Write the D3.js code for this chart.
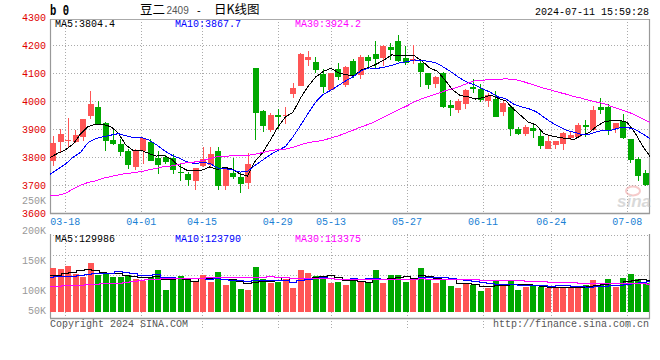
<!DOCTYPE html>
<html><head><meta charset="utf-8">
<script src="https://cdn.jsdelivr.net/npm/d3@7"></script>
<style>
html,body{margin:0;padding:0;background:#fff;}
svg{display:block;}
text{font-family:"Liberation Mono",monospace;font-size:10px;}
</style></head><body>
<svg id="chart" width="660" height="360"></svg>
<script>
// ---------- data ----------
const dates = ["03-14","03-15","03-18","03-19","03-20","03-21","03-22","03-25","03-26","03-27",
"03-28","03-29","04-01","04-02","04-03","04-08","04-09","04-10","04-11","04-12",
"04-15","04-16","04-17","04-18","04-19","04-22","04-23","04-24","04-25","04-26",
"04-29","04-30","05-06","05-07","05-08","05-09","05-10","05-13","05-14","05-15",
"05-16","05-17","05-20","05-21","05-22","05-23","05-24","05-27","05-28","05-29",
"05-30","05-31","06-03","06-04","06-05","06-06","06-07","06-11","06-12","06-13",
"06-14","06-17","06-18","06-19","06-20","06-21","06-24","06-25","06-26","06-27",
"06-28","07-01","07-02","07-03","07-04","07-05","07-08","07-09","07-10","07-11"];

const opens = [3786,3854,3858,3854,3872,3947,3977,3923,3860,3848,
3820,3764,3822,3853,3795,3799,3795,3747,3738,3714,
3768,3772,3820,3697,3742,3728,3706,4119,3963,3897,
3949,3949,4024,4054,4146,4138,4098,4038,4113,4057,
4142,4092,4156,4167,4154,4192,4213,4152,4142,4137,
4100,4062,4100,3985,3968,3989,4050,4042,3999,4007,
3961,3977,3899,3881,3905,3876,3828,3843,3845,3867,
3870,3916,3895,3980,3980,3899,3929,3863,3792,3744];

const closes = [3851,3881,3861,3880,3935,3988,3918,3857,3845,3818,
3772,3820,3867,3786,3772,3782,3753,3742,3718,3760,
3792,3810,3697,3756,3729,3705,3774,3958,3911,3949,
3944,3951,4045,4168,4156,4111,4050,4100,4086,4121,
4092,4156,4142,4149,4196,4181,4142,4137,4149,4104,
4057,4086,3979,3975,4000,4038,4043,4002,4023,3943,
3992,3900,3881,3906,3894,3839,3856,3856,3885,3878,
3913,3907,3967,3968,3893,3920,3869,3789,3732,3700];

const highs = [3875,3899,3938,3895,3935,4035,3999,3926,3899,3863,
3828,3828,3869,3863,3820,3806,3810,3774,3747,3760,
3837,3837,3837,3760,3798,3742,3816,4119,3968,3958,
3970,3980,4063,4170,4177,4156,4113,4100,4135,4124,
4149,4163,4163,4213,4199,4206,4235,4196,4199,4142,
4100,4089,4104,4002,4007,4042,4077,4060,4027,4035,
4000,3982,3908,3913,3917,3893,3878,3856,3891,3893,
3920,3932,3982,4012,3988,3923,3952,3863,3800,3753];

const lows = [3768,3818,3837,3850,3857,3935,3913,3822,3843,3804,
3756,3754,3774,3786,3738,3775,3738,3714,3697,3682,
3766,3762,3682,3682,3723,3670,3685,3861,3889,3889,
3901,3918,4010,4054,4125,4099,4027,4036,4074,4050,
4083,4080,4113,4116,4125,4146,4139,4127,4133,4050,
4042,4045,3974,3945,3957,3970,4027,3998,3979,3943,
3947,3875,3878,3875,3868,3828,3828,3828,3825,3861,
3868,3873,3893,3952,3878,3887,3863,3778,3714,3697];

const volumes = [182500,177000,189600,156000,145000,203000,152000,156000,145000,145000,
152000,135000,127000,145000,173000,90000,131000,148000,135000,124000,
151000,124000,166000,110000,126000,95000,90000,187000,137000,117000,
124000,135000,99000,173000,162000,149000,149000,120000,124000,110000,
135000,127000,117000,173000,120000,152000,152000,124000,138000,181000,
131000,120000,135000,106000,99000,117000,110000,87000,99000,131000,
110000,131000,90000,101000,106000,101000,97000,101000,101000,101000,
101000,110000,131000,110000,135000,101000,140000,156000,135000,117000];

const ma5Early = [3798,3813,3825,3845];
const ma10Early = [3738,3756,3774,3798,3816,3851,3866,3872,3878];
const ma30Early = [3663,3663,3670,3685,3699,3709,3715,3724,3730,3736,3741,3744,3748,3754,3759,
3766,3768,3774,3780,3782,3787,3794,3801,3803,3804,3804,3806,3810,3816];
const vma5Early = [148000,152000,159000,163000];
const vma10Early = [142000,144000,145000,147000,148000,156000,159000,159000,159000];
const vma30Early = [106000,106000,108000,110000,110000,113000,114000,115000,116000,118000,
121000,124000,128000,132000,135000,137000,137000,137000,137000,137000,137000,
140000,140000,140000,140000,140000,140000,140000,140000];

const maNames = ["MA5","MA10","MA30"];
const priceMaLegend = ["3804.4","3867.7","3924.2"];
const volMaLegend = ["129986","123790","113375"];
const priceTicks = [3600,3700,3800,3900,4000,4100,4200,4300];
const volTicks = [250000,200000,150000,100000,50000];
const dateTicks = ["03-18","04-01","04-15","04-29","05-13","05-27","06-11","06-24","07-08"];
const titleMain = "豆二", titleCode = "2409", titleSep = "-", titleKind = "日K线图";
const timestamp = "2024-07-11 15:59:28";
const copyright = "Copyright 2024 SINA.COM";
const siteUrl = "http://finance.sina.com.cn";

// ---------- styles ----------
const UP = "#ff5555", DOWN = "#00a800";
const MA_COLORS = ["#000000","#0000ff","#ff00ff"];
const GRID = "#aaaaaa", AXIS = "#999999";

const svg = d3.select("#chart");
const L = 50, R = 650;
const PT = 19, PB = 213;      // price panel
const VT = 234, VB = 318;     // volume panel

const xBand = d3.scaleBand().domain(dates).range([49.25, 649.25]).paddingInner(0.2).paddingOuter(0.1);
const xPt = d3.scalePoint().domain(dates).range([L, R]);
const y = d3.scaleLinear().domain([3600, 4300]).range([213, 17]);
const yv = d3.scaleLinear().domain([0, 250000]).range([311.5, 251.5]);
const yvLabel = d3.scaleLinear().domain([100000, 250000]).range([290, 200]);
const vGrid = d3.scaleLinear().domain([0, 4]).range([235, 315]);

function movingAvg(arr, n, early) {
  return arr.map((_, i) => i < n - 1 ? early[i] : d3.mean(arr.slice(i - n + 1, i + 1)));
}
const priceMA = [movingAvg(closes, 5, ma5Early), movingAvg(closes, 10, ma10Early), movingAvg(closes, 30, ma30Early)];
const volMA = [movingAvg(volumes, 5, vma5Early), movingAvg(volumes, 10, vma10Early), movingAvg(volumes, 30, vma30Early)];

// ---------- grid ----------
const g = svg.append("g");
// price horizontals
g.selectAll(".hg").data(priceTicks.filter(t => t > 3600 && t < 4300)).join("line")
  .attr("x1", L).attr("x2", R).attr("y1", d => y(d) + 0.5).attr("y2", d => y(d) + 0.5)
  .attr("stroke", GRID).attr("stroke-dasharray", "1,2");
// date verticals
g.selectAll(".vg1").data(dateTicks).join("line")
  .attr("x1", d => Math.round(xPt(d)) + 0.5).attr("x2", d => Math.round(xPt(d)) + 0.5)
  .attr("y1", PT).attr("y2", PB).attr("stroke", GRID).attr("stroke-dasharray", "1,2");
g.selectAll(".vg2").data(dateTicks).join("line")
  .attr("x1", d => Math.round(xPt(d)) + 0.5).attr("x2", d => Math.round(xPt(d)) + 0.5)
  .attr("y1", VT).attr("y2", 328).attr("stroke", GRID).attr("stroke-dasharray", "1,2");
// volume horizontals
g.selectAll(".vh").data([0, 1, 2, 3]).join("line")
  .attr("x1", L).attr("x2", R).attr("y1", d => vGrid(d) + 0.5).attr("y2", d => vGrid(d) + 0.5)
  .attr("stroke", GRID).attr("stroke-dasharray", "1,2");
// frame
g.append("line").attr("x1", L).attr("x2", R).attr("y1", PT + 0.5).attr("y2", PT + 0.5).attr("stroke", GRID);
g.append("line").attr("x1", L + 0.5).attr("x2", L + 0.5).attr("y1", PT).attr("y2", PB + 1).attr("stroke", AXIS).attr("stroke-width", 1.2);
g.append("line").attr("x1", L).attr("x2", R).attr("y1", PB + 0.5).attr("y2", PB + 0.5).attr("stroke", AXIS).attr("stroke-width", 1.5);
g.append("line").attr("x1", R - 0.5).attr("x2", R - 0.5).attr("y1", PT).attr("y2", PB + 1).attr("stroke", AXIS).attr("stroke-width", 1.2);
g.append("line").attr("x1", L + 0.5).attr("x2", L + 0.5).attr("y1", VT).attr("y2", VB).attr("stroke", AXIS).attr("stroke-width", 1.2);
g.append("line").attr("x1", L).attr("x2", R).attr("y1", VB + 0.5).attr("y2", VB + 0.5).attr("stroke", AXIS).attr("stroke-width", 1.5);
g.append("line").attr("x1", R - 0.5).attr("x2", R - 0.5).attr("y1", VT).attr("y2", VB + 1).attr("stroke", AXIS).attr("stroke-width", 1.2);

// watermark
const wm = svg.append("g").attr("opacity", 0.55);
wm.append("ellipse").attr("cx", 633).attr("cy", 191).attr("rx", 7).attr("ry", 4.5)
  .attr("fill", "none").attr("stroke", "#f0a0a0").attr("stroke-width", 2);
wm.append("text").attr("x", 617).attr("y", 207).text("sina")
  .style("font-family", "Liberation Sans").style("font-size", "17px").style("font-style", "italic")
  .style("font-weight", "bold").attr("fill", "#bbbbbb");

// ---------- candles ----------
const idx = d3.range(dates.length);
const cg = svg.append("g").attr("shape-rendering", "crispEdges");
cg.selectAll(".wick").data(idx).join("line")
  .attr("x1", i => xBand(dates[i]) + xBand.bandwidth() / 2)
  .attr("x2", i => xBand(dates[i]) + xBand.bandwidth() / 2)
  .attr("y1", i => y(highs[i])).attr("y2", i => y(lows[i]))
  .attr("stroke", i => closes[i] >= opens[i] ? UP : DOWN);
cg.selectAll(".body").data(idx).join("rect")
  .attr("x", i => xBand(dates[i])).attr("width", xBand.bandwidth())
  .attr("y", i => y(Math.max(opens[i], closes[i])))
  .attr("height", i => Math.max(1, Math.abs(y(opens[i]) - y(closes[i]))))
  .attr("fill", i => closes[i] >= opens[i] ? UP : DOWN);

// price MAs
const maLine = d3.line().x((d, i) => xPt(dates[i])).y(d => y(d));
svg.append("g").selectAll("path").data(priceMA).join("path")
  .attr("d", d => maLine(d)).attr("fill", "none")
  .attr("stroke", (d, k) => MA_COLORS[k]).attr("stroke-width", 1).attr("shape-rendering", "crispEdges");

// ---------- volume ----------
cg.selectAll(".vbar").data(idx).join("rect")
  .attr("x", i => xBand(dates[i])).attr("width", xBand.bandwidth())
  .attr("y", i => yv(volumes[i])).attr("height", i => yv(0) - yv(volumes[i]))
  .attr("fill", i => closes[i] >= opens[i] ? UP : DOWN);
const vLine = d3.line().x((d, i) => xPt(dates[i])).y(d => yv(d)).curve(d3.curveStep);
svg.append("g").selectAll("path").data(volMA).join("path")
  .attr("d", d => vLine(d)).attr("fill", "none")
  .attr("stroke", (d, k) => MA_COLORS[k]).attr("stroke-width", 1).attr("shape-rendering", "crispEdges");

// ---------- text ----------
const t = svg.append("g");
t.selectAll(".pt").data(priceTicks).join("text")
  .attr("x", 46).attr("y", d => y(d) + 3.5).attr("text-anchor", "end")
  .attr("fill", "#e00000").text(d => d);
t.selectAll(".vt").data(volTicks).join("text")
  .attr("x", 46).attr("y", d => Math.min(310, yvLabel(d)) + 3.5).attr("text-anchor", "end")
  .attr("fill", "#999999").text(d => (d / 1000) + "K");
t.selectAll(".dt").data(dateTicks).join("text")
  .attr("x", d => xPt(d)).attr("y", 225).attr("text-anchor", "middle")
  .attr("fill", "#1a7fd4").text(d => d);
t.selectAll(".pl").data(maNames).join("text")
  .attr("x", (d, k) => 55 + k * 120).attr("y", 27).attr("fill", (d, k) => MA_COLORS[k])
  .text((d, k) => d + ":" + priceMaLegend[k]);
t.selectAll(".vl").data(maNames).join("text")
  .attr("x", (d, k) => 55 + k * 120).attr("y", 241.5).attr("fill", (d, k) => MA_COLORS[k])
  .text((d, k) => d + ":" + volMaLegend[k]);

t.append("text").attr("x", 50).attr("y", 15).text("b 0")
  .style("font-size", "14px").style("font-weight", "bold").attr("textLength", 19).attr("lengthAdjust", "spacingAndGlyphs");
const cjk = "'Noto Sans CJK SC', sans-serif";
t.append("text").attr("x", 140).attr("y", 14).text(titleMain).style("font-family", cjk).style("font-size", "12.5px").attr("fill", "#000");
t.append("text").attr("x", 166.5).attr("y", 13.5).text(titleCode).style("font-family", "Liberation Sans").style("font-size", "10px").attr("fill", "#555");
t.append("text").attr("x", 197).attr("y", 13.5).text(titleSep).style("font-family", "Liberation Sans").style("font-size", "11px").attr("fill", "#000");
t.append("text").attr("x", 214).attr("y", 14).text(titleKind).style("font-family", cjk).style("font-size", "12.5px").attr("fill", "#000");
t.append("text").attr("x", 649).attr("y", 15).attr("text-anchor", "end").text(timestamp).attr("fill", "#000");
t.append("text").attr("x", 50).attr("y", 327).text(copyright).attr("fill", "#555");
t.append("text").attr("x", 649).attr("y", 327).attr("text-anchor", "end").text(siteUrl).attr("fill", "#555");
</script>
</body></html>
